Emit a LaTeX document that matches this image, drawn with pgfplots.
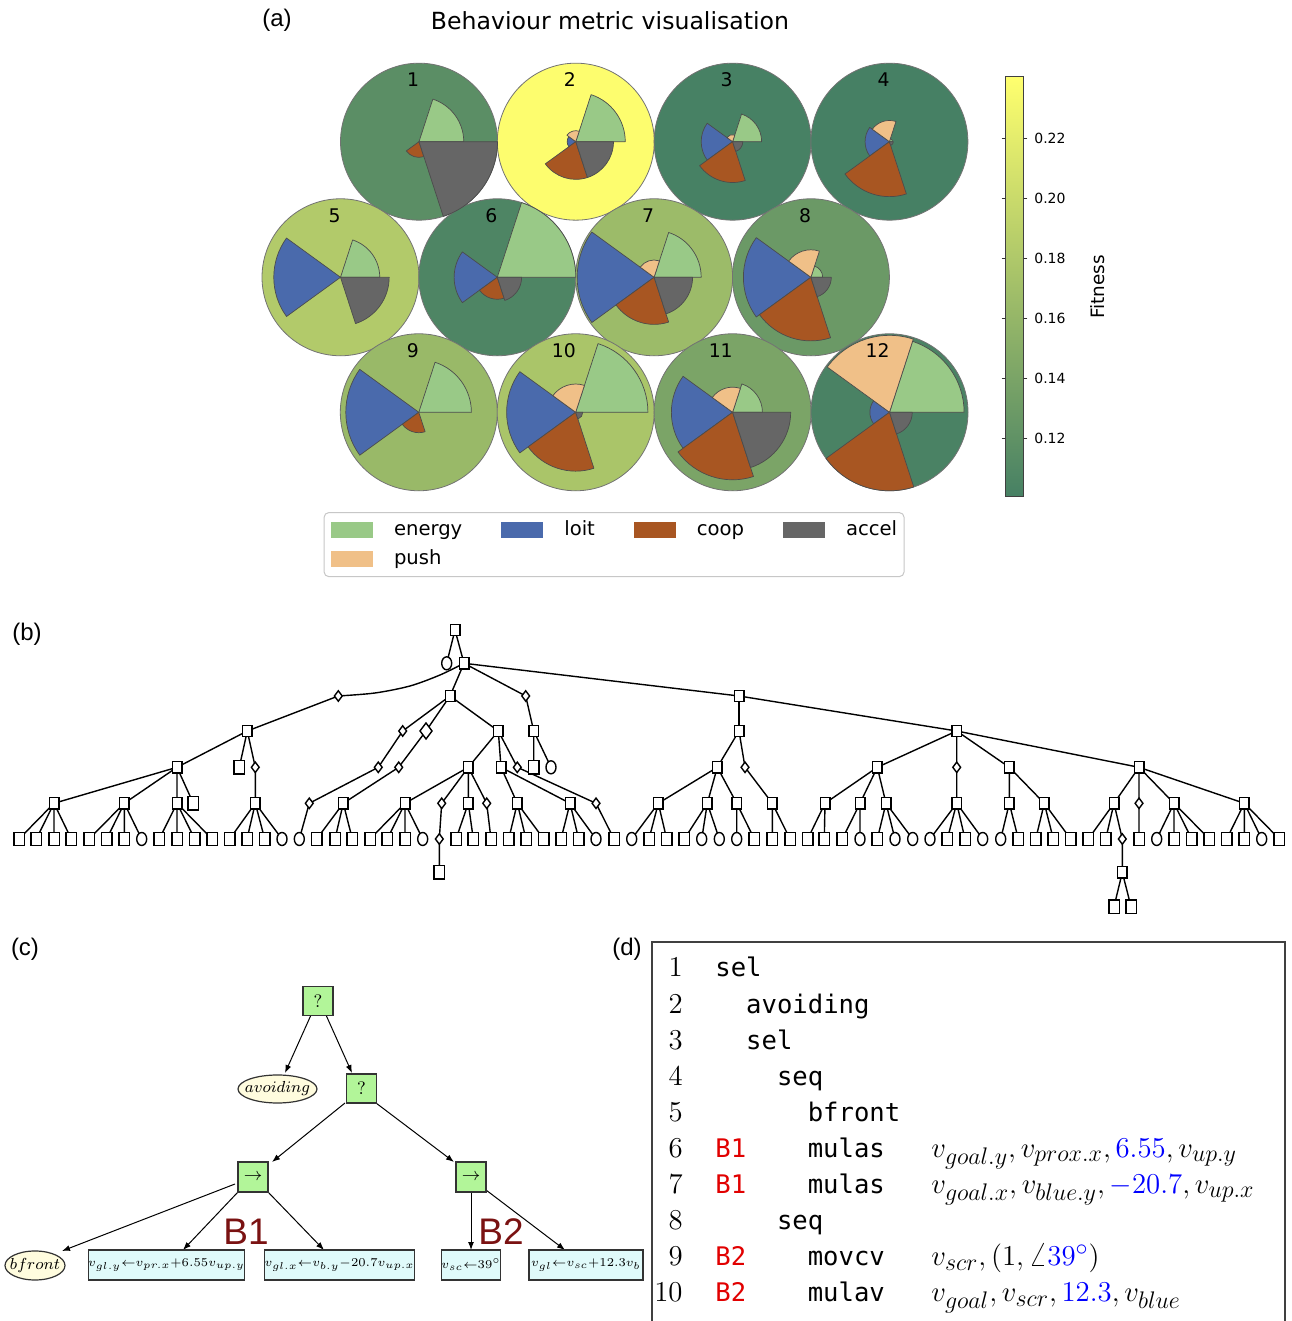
\documentclass[border=0pt]{standalone}
\usepackage[no-math]{fontspec}
\setmainfont{DejaVu Sans}
\setmonofont{DejaVu Sans Mono}
\newfontfamily\arialf{Liberation Sans}
\usepackage{pgfplots}
\pgfplotsset{compat=1.18}
\usetikzlibrary{calc,arrows.meta,shapes.geometric}
\DeclareMathSizes{14.6}{14.6}{12.6}{9}
\newcommand\fs[1]{\fontsize{#1}{#1}\selectfont}
\definecolor{ceng}{RGB}{153,201,135}
\definecolor{cloit}{RGB}{74,106,172}
\definecolor{ccoop}{RGB}{168,86,34}
\definecolor{cacc}{RGB}{102,102,102}
\definecolor{cpush}{RGB}{240,192,136}
\definecolor{bgreen}{RGB}{178,245,153}
\definecolor{byellow}{RGB}{255,252,222}
\definecolor{bcyan}{RGB}{224,250,250}
\definecolor{bred}{RGB}{122,18,18}
\definecolor{cred}{RGB}{225,0,0}
% wedge: cx, cy, start angle, colour, fraction of radius
\newcommand\wdg[5]{\ifdim#5pt>0pt\filldraw[fill=#4,draw=black!70,line width=0.35pt,line join=round] (axis cs:#1,#2) -- ++(#3:{#5*39.25pt}) arc[start angle=#3,delta angle=72,radius={#5*39.25pt}] -- cycle;\fi}
% pie: cx, cy, energy, push, loit, coop, accel
\newcommand\pie[7]{\wdg{#1}{#2}{0}{ceng}{#3}\wdg{#1}{#2}{144}{cloit}{#5}\wdg{#1}{#2}{216}{ccoop}{#6}\wdg{#1}{#2}{288}{cacc}{#7}\wdg{#1}{#2}{72}{cpush}{#4}}
\pgfplotsset{
  edge/.style={black, line width=0.7pt, line join=round, mark=none, forget plot},
  frame/.style={at={(0,0)}, anchor=south west, width=645.5pt, height=660.5pt, scale only axis,
    xmin=0, xmax=1291, ymin=-1321, ymax=0, hide axis, clip=false},
}
\tikzset{
  gbox/.style={draw=black!80, fill=bgreen, line width=0.6pt, minimum width=15pt, minimum height=14.5pt, inner sep=0pt, font=\fs{9}},
  cbox/.style={draw=black!80, fill=bcyan, line width=0.6pt, minimum height=15pt, inner sep=0pt, font=\fs{6.2}},
  arr/.style={-{Latex[length=4pt,width=3pt]}, line width=0.5pt, black},
}
\begin{document}
\begin{tikzpicture}
% ---------- background axis: coloured circles and colour bar ----------
\begin{axis}[frame,
  colormap={fit}{rgb255=(70,128,100) rgb255=(255,255,110)},
  point meta min=0.1003, point meta max=0.2407,
  colorbar, colorbar shift/.style={},
  colorbar style={
    at={($(parent axis.north west)+(502.85pt,-38.35pt)$)}, anchor=north west,
    width=8.8pt, height=210.15pt, scale only axis,
    ytick={0.12,0.14,0.16,0.18,0.2,0.22},
    yticklabel pos=right,
    yticklabel style={font=\fs{7}, /pgf/number format/.cd, fixed, fixed zerofill, precision=2, assume math mode=true},
    tick align=outside, major tick length=2pt,
    tick style={black!80, line width=0.4pt},
    axis line style={black!75, line width=0.5pt},
    ylabel={Fitness},
    ylabel style={font=\fs{9.2}, at={(axis description cs:5.2,0.5)}, anchor=center},
  },
]
\addplot[scatter, only marks, mark=*, mark size=39.25pt, point meta=explicit,
  scatter/use mapped color={draw=black!55, fill=mapped color}, forget plot] coordinates {
  (419,-141.7) [0.116]  (575.8,-141.7) [0.238] (732.6,-141.7) [0.101] (889.4,-141.7) [0.1005]
  (340.5,-277.3) [0.182] (497.3,-277.3) [0.106] (654.1,-277.3) [0.165] (810.9,-277.3) [0.128]
  (418.8,-412.3) [0.163] (575.7,-412.3) [0.176] (732.6,-412.3) [0.140] (889.5,-412.3) [0.103]
};
\end{axis}
% ---------- foreground axis ----------
\begin{axis}[frame,
  legend style={at={(0.2506,0.6124)}, anchor=north west, draw=black!22, line width=0.5pt,
    rounded corners=2.5pt, fill=white, font=\fs{9.8}, inner xsep=3.5pt, inner ysep=4pt, row sep=4.9pt,
    /tikz/every odd column/.append style={column sep=10.5pt},
    /tikz/every even column/.append style={column sep=19.5pt},
    nodes={inner sep=0pt, text height=7.4pt, text depth=2.2pt}},
  legend cell align=left,
  legend columns=4,
  legend image code/.code={\fill[#1, draw=none, sharp corners] (0pt,-4pt) rectangle (21pt,4pt);},
]
% ---------------- panel (a) ----------------
% cx, cy, energy, push, loit, coop, accel
\pie{419}{-141.7}{0.57}{0}{0}{0.20}{1.0}
\pie{575.8}{-141.7}{0.63}{0.14}{0.11}{0.48}{0.48}
\pie{732.6}{-141.7}{0.37}{0.09}{0.40}{0.52}{0.13}
\pie{889.4}{-141.7}{0.04}{0.27}{0.31}{0.70}{0.05}
\pie{340.5}{-277.3}{0.50}{0}{0.85}{0}{0.62}
\pie{497.3}{-277.3}{1.0}{0}{0.55}{0.28}{0.31}
\pie{654.1}{-277.3}{0.60}{0.22}{0.98}{0.60}{0.49}
\pie{810.9}{-277.3}{0.15}{0.35}{0.86}{0.81}{0.26}
\pie{418.8}{-412.3}{0.67}{0}{0.93}{0.26}{0}
\pie{575.7}{-412.3}{0.92}{0.36}{0.88}{0.75}{0.09}
\pie{732.6}{-412.3}{0.38}{0.32}{0.78}{0.86}{0.74}
\pie{889.5}{-412.3}{0.95}{0.98}{0.25}{1.0}{0.29}
\node[anchor=east, inner sep=0pt, font=\fs{9.4}] at (axis cs:419.5,-79.7) {1};
\node[anchor=east, inner sep=0pt, font=\fs{9.4}] at (axis cs:576.3,-79.7) {2};
\node[anchor=east, inner sep=0pt, font=\fs{9.4}] at (axis cs:733.1,-79.7) {3};
\node[anchor=east, inner sep=0pt, font=\fs{9.4}] at (axis cs:889.9,-79.7) {4};
\node[anchor=east, inner sep=0pt, font=\fs{9.4}] at (axis cs:341,-215.3) {5};
\node[anchor=east, inner sep=0pt, font=\fs{9.4}] at (axis cs:497.8,-215.3) {6};
\node[anchor=east, inner sep=0pt, font=\fs{9.4}] at (axis cs:654.6,-215.3) {7};
\node[anchor=east, inner sep=0pt, font=\fs{9.4}] at (axis cs:811.4,-215.3) {8};
\node[anchor=east, inner sep=0pt, font=\fs{9.4}] at (axis cs:419.3,-350.3) {9};
\node[anchor=east, inner sep=0pt, font=\fs{9.4}] at (axis cs:576.2,-350.3) {10};
\node[anchor=east, inner sep=0pt, font=\fs{9.4}] at (axis cs:733.1,-350.3) {11};
\node[anchor=east, inner sep=0pt, font=\fs{9.4}] at (axis cs:890,-350.3) {12};
\node[font=\fs{11.8}] at (axis cs:610,-21) {Behaviour metric visualisation};
\addlegendimage{fill=ceng}\addlegendentry{energy}
\addlegendimage{fill=cloit}\addlegendentry{loit}
\addlegendimage{fill=ccoop}\addlegendentry{coop}
\addlegendimage{fill=cacc}\addlegendentry{accel}
\addlegendimage{fill=cpush}\addlegendentry{push}
% panel labels
\node[font=\arialf\fs{12}] at (axis cs:277,-20) {(a)};
\node[font=\arialf\fs{12}] at (axis cs:27,-634) {(b)};
\node[font=\arialf\fs{12}] at (axis cs:25,-949) {(c)};
\node[font=\arialf\fs{12}] at (axis cs:627,-949) {(d)};
% ---------------- panel (b) ----------------
\addplot[edge] coordinates {(446.7,-663.3) (455,-630) (464,-663.3)};
\addplot[edge] coordinates {(450,-696) (464,-663.3) (525.7,-696) (464,-663.3) (739,-696) (956.7,-731) (1139,-767.3)};
\addplot[edge, smooth] coordinates {(464,-663.3) (440,-675) (410,-686) (375,-693) (338.3,-696)};
\addplot[edge] coordinates {(338.3,-696) (247.3,-731)};
\addplot[edge] coordinates {(177,-767.3) (247.3,-731) (239.3,-767.3) (247.3,-731) (255.3,-767.3) (255.3,-803.3)};
\addplot[edge] coordinates {(54,-803.3) (177,-767.3) (124.3,-803.3) (177,-767.3) (177,-803.3) (177,-767.3) (193.3,-803.3)};
\addplot[edge] coordinates {(19,-839) (54,-803.3) (36.3,-839) (54,-803.3) (54,-839) (54,-803.3) (71.3,-839)};
\addplot[edge] coordinates {(89,-839) (124.3,-803.3) (106.7,-839) (124.3,-803.3) (124.3,-839) (124.3,-803.3) (141.7,-839)};
\addplot[edge] coordinates {(159.3,-839) (177,-803.3) (177,-839) (177,-803.3) (194.7,-839) (177,-803.3) (212,-839)};
\addplot[edge] coordinates {(229.7,-839) (255.3,-803.3) (247,-839) (255.3,-803.3) (264.7,-839) (255.3,-803.3) (282,-839)};
\addplot[edge] coordinates {(402.7,-731) (450,-696) (426,-731) (450,-696) (498.3,-731)};
\addplot[edge] coordinates {(402.7,-731) (378.3,-767.3) (309.3,-803.3) (299.3,-839)};
\addplot[edge] coordinates {(426,-731) (398.7,-767.3) (343.3,-803.3)};
\addplot[edge] coordinates {(316.7,-839) (343.3,-803.3) (335,-839) (343.3,-803.3) (352.3,-839)};
\addplot[edge] coordinates {(468.3,-767.3) (498.3,-731) (501,-767.3) (498.3,-731) (517.3,-767.3) (596,-803.3) (614,-839)};
\addplot[edge] coordinates {(405,-803.3) (468.3,-767.3) (441.7,-803.3) (468.3,-767.3) (468.3,-803.3) (468.3,-767.3) (486.7,-803.3) (491,-839)};
\addplot[edge] coordinates {(370,-839) (405,-803.3) (387.3,-839) (405,-803.3) (405,-839) (405,-803.3) (422.7,-839)};
\addplot[edge] coordinates {(441.7,-803.3) (439.3,-839) (439.3,-872.3)};
\addplot[edge] coordinates {(456,-839) (468.3,-803.3) (473.3,-839)};
\addplot[edge] coordinates {(517.3,-803.3) (501,-767.3) (570,-803.3)};
\addplot[edge] coordinates {(508.7,-839) (517.3,-803.3) (526,-839) (517.3,-803.3) (543.7,-839)};
\addplot[edge] coordinates {(561,-839) (570,-803.3) (578.7,-839) (570,-803.3) (596,-839)};
\addplot[edge] coordinates {(525.7,-696) (533.7,-731) (533.7,-767.3) (533.7,-731) (551,-767.3)};
\addplot[edge] coordinates {(739,-696) (739,-731)};
\addplot[edge] coordinates {(717.3,-767.3) (739,-731) (745,-767.3) (772.3,-803.3)};
\addplot[edge] coordinates {(658.3,-803.3) (717.3,-767.3) (707.3,-803.3) (717.3,-767.3) (736.7,-803.3)};
\addplot[edge] coordinates {(631.7,-839) (658.3,-803.3) (649,-839) (658.3,-803.3) (666.7,-839)};
\addplot[edge] coordinates {(684.3,-839) (707.3,-803.3) (701.7,-839) (707.3,-803.3) (719.3,-839)};
\addplot[edge] coordinates {(736.7,-839) (736.7,-803.3) (754.3,-839)};
\addplot[edge] coordinates {(772.3,-839) (772.3,-803.3) (790,-839)};
\addplot[edge] coordinates {(877.3,-767.3) (956.7,-731) (956.7,-803.3) (956.7,-731) (1009.3,-767.3)};
\addplot[edge] coordinates {(825,-803.3) (877.3,-767.3) (860,-803.3) (877.3,-767.3) (886,-803.3)};
\addplot[edge] coordinates {(807.7,-839) (825,-803.3) (824.3,-839)};
\addplot[edge] coordinates {(842.3,-839) (860,-803.3) (860,-839)};
\addplot[edge] coordinates {(877.3,-839) (886,-803.3) (895,-839) (886,-803.3) (912.7,-839)};
\addplot[edge] coordinates {(930,-839) (956.7,-803.3) (947.3,-839) (956.7,-803.3) (965,-839) (956.7,-803.3) (982.7,-839)};
\addplot[edge] coordinates {(1009.3,-803.3) (1009.3,-767.3) (1044.3,-803.3)};
\addplot[edge] coordinates {(1000.7,-839) (1009.3,-803.3) (1018.3,-839)};
\addplot[edge] coordinates {(1035.7,-839) (1044.3,-803.3) (1053.3,-839) (1044.3,-803.3) (1070.7,-839)};
\addplot[edge] coordinates {(1114,-803.3) (1139,-767.3) (1139,-839) (1139,-767.3) (1174,-803.3) (1139,-767.3) (1244.3,-803.3)};
\addplot[edge] coordinates {(1088.3,-839) (1114,-803.3) (1105.7,-839) (1114,-803.3) (1122.3,-839) (1122.3,-872.3) (1114,-906.7) (1122.3,-872.3) (1131,-906.7)};
\addplot[edge] coordinates {(1156.7,-839) (1174,-803.3) (1174,-839) (1174,-803.3) (1191.7,-839) (1174,-803.3) (1209.3,-839)};
\addplot[edge] coordinates {(1226.7,-839) (1244.3,-803.3) (1244.3,-839) (1244.3,-803.3) (1261.7,-839) (1244.3,-803.3) (1279.3,-839)};
% internal squares
\addplot[only marks, mark=square*, mark size=2.4pt, mark options={fill=white, draw=black, line width=0.7pt, yscale=1.15}, forget plot] coordinates {
 (455,-630) (464,-663.3) (450,-696) (739,-696)
 (247.3,-731) (498.3,-731) (533.7,-731) (739,-731) (956.7,-731)
 (177,-767.3) (468.3,-767.3) (501,-767.3) (717.3,-767.3) (877.3,-767.3) (1009.3,-767.3) (1139,-767.3)
 (54,-803.3) (124.3,-803.3) (177,-803.3) (255.3,-803.3) (343.3,-803.3) (405,-803.3) (468.3,-803.3) (517.3,-803.3)
 (570,-803.3) (658.3,-803.3) (707.3,-803.3) (736.7,-803.3) (772.3,-803.3) (825,-803.3) (860,-803.3) (886,-803.3)
 (956.7,-803.3) (1009.3,-803.3) (1044.3,-803.3) (1114,-803.3) (1174,-803.3) (1244.3,-803.3) (1122.3,-872.3)
};
% leaf squares
\addplot[only marks, mark=square*, mark size=2.6pt, mark options={fill=white, draw=black, line width=0.7pt, yscale=1.3}, forget plot] coordinates {
 (239.3,-767.3) (533.7,-767.3) (193.3,-803.3) (439.3,-872.3) (1114,-906.7) (1131,-906.7)
 (19,-839) (36.3,-839) (54,-839) (71.3,-839) (89,-839) (106.7,-839) (124.3,-839) (159.3,-839) (177,-839)
 (194.7,-839) (212,-839) (229.7,-839) (247,-839) (264.7,-839) (316.7,-839) (335,-839) (352.3,-839) (370,-839)
 (387.3,-839) (405,-839) (456,-839) (473.3,-839) (491,-839) (508.7,-839) (526,-839) (543.7,-839) (561,-839)
 (578.7,-839) (614,-839) (649,-839) (666.7,-839) (684.3,-839) (754.3,-839) (772.3,-839) (790,-839) (807.7,-839)
 (824.3,-839) (842.3,-839) (877.3,-839) (947.3,-839) (965,-839) (1018.3,-839) (1035.7,-839) (1053.3,-839)
 (1070.7,-839) (1088.3,-839) (1105.7,-839) (1139,-839) (1174,-839) (1191.7,-839) (1209.3,-839) (1226.7,-839)
 (1244.3,-839) (1279.3,-839)
};
% circles
\addplot[only marks, mark=*, mark size=2.5pt, mark options={fill=white, draw=black, line width=0.7pt, yscale=1.3}, forget plot] coordinates {
 (446.7,-663.3) (551,-767.3)
 (141.7,-839) (282,-839) (299.3,-839) (422.7,-839) (596,-839) (631.7,-839) (701.7,-839) (719.3,-839)
 (736.7,-839) (860,-839) (895,-839) (912.7,-839) (930,-839) (982.7,-839) (1000.7,-839) (1156.7,-839) (1261.7,-839)
};
% diamonds
\addplot[only marks, mark=diamond*, mark size=2.6pt, mark options={fill=white, draw=black, line width=0.7pt}, forget plot] coordinates {
 (338.3,-696) (525.7,-696) (402.7,-731) (255.3,-767.3) (378.3,-767.3) (398.7,-767.3) (517.3,-767.3)
 (745,-767.3) (956.7,-767.3) (309.3,-803.3) (441.7,-803.3) (486.7,-803.3) (596,-803.3) (1139,-803.3)
 (439.3,-839) (1122.3,-839)
};
\addplot[only marks, mark=diamond*, mark size=4pt, mark options={fill=white, draw=black, line width=0.7pt}, forget plot] coordinates {(426,-731)};
% ---------------- panel (c) ----------------
\draw[arr] (axis cs:311,-1015) -- (axis cs:285,-1073);
\draw[arr] (axis cs:326,-1015) -- (axis cs:352,-1073);
\draw[arr] (axis cs:345,-1103) -- (axis cs:272,-1162);
\draw[arr] (axis cs:376,-1103) -- (axis cs:454,-1162);
\draw[arr] (axis cs:235,-1184) -- (axis cs:62,-1251);
\draw[arr] (axis cs:238,-1192) -- (axis cs:183,-1250);
\draw[arr] (axis cs:268,-1192) -- (axis cs:324,-1250);
\draw[arr] (axis cs:471,-1192) -- (axis cs:471,-1250);
\draw[arr] (axis cs:486,-1190) -- (axis cs:565,-1250);
\node[gbox] at (axis cs:318,-1001) {$?$};
\node[gbox] at (axis cs:361.5,-1088.5) {$?$};
\node[gbox, minimum height=15pt] at (axis cs:253,-1177) {$\rightarrow$};
\node[gbox, minimum height=15pt] at (axis cs:471,-1177) {$\rightarrow$};
\filldraw[fill=byellow, draw=black!80, line width=0.6pt] (axis cs:277.5,-1089) ellipse [x radius=19.75pt, y radius=7pt];
\node[font=\fs{8.3}, inner sep=0pt] at (axis cs:277.5,-1089) {$avoiding$};
\filldraw[fill=byellow, draw=black!80, line width=0.6pt] (axis cs:35,-1265.5) ellipse [x radius=15pt, y radius=7.25pt];
\node[font=\fs{8.3}, inner sep=0pt] at (axis cs:35,-1265.5) {$bfront$};
\node[cbox, minimum width=72.5pt] at (axis cs:166.5,-1265) {$v_{gl.y}{\leftarrow}v_{pr.x}{+}6.55v_{up.y}$};
\node[cbox, minimum width=72.5pt] at (axis cs:339.5,-1265) {$v_{gl.x}{\leftarrow}v_{b.y}{-}20.7v_{up.x}$};
\node[cbox, minimum width=29pt] at (axis cs:471,-1265) {$v_{sc}{\leftarrow}39^{\circ}$};
\node[cbox, minimum width=57pt] at (axis cs:586,-1265) {$v_{gl}{\leftarrow}v_{sc}{+}12.3v_{b}$};
\node[font=\arialf\fs{18.5}, text=bred] at (axis cs:246,-1232) {B1};
\node[font=\arialf\fs{18.5}, text=bred] at (axis cs:501,-1232) {B2};
% ---------------- panel (d) ----------------
\draw[black!75, line width=0.8pt] (axis cs:652,-1321) -- (axis cs:652,-942) -- (axis cs:1285,-942) -- (axis cs:1285,-1321);
\node[anchor=base east, inner sep=0pt, font=\fs{13.5}] at (axis cs:683,-977) {$1$};
\node[anchor=base east, inner sep=0pt, font=\fs{13.5}] at (axis cs:683,-1013.1) {$2$};
\node[anchor=base east, inner sep=0pt, font=\fs{13.5}] at (axis cs:683,-1049.2) {$3$};
\node[anchor=base east, inner sep=0pt, font=\fs{13.5}] at (axis cs:683,-1085.3) {$4$};
\node[anchor=base east, inner sep=0pt, font=\fs{13.5}] at (axis cs:683,-1121.4) {$5$};
\node[anchor=base east, inner sep=0pt, font=\fs{13.5}] at (axis cs:683,-1157.5) {$6$};
\node[anchor=base east, inner sep=0pt, font=\fs{13.5}] at (axis cs:683,-1193.6) {$7$};
\node[anchor=base east, inner sep=0pt, font=\fs{13.5}] at (axis cs:683,-1229.7) {$8$};
\node[anchor=base east, inner sep=0pt, font=\fs{13.5}] at (axis cs:683,-1265.8) {$9$};
\node[anchor=base east, inner sep=0pt, font=\fs{13.5}] at (axis cs:683,-1301.9) {$10$};
\node[anchor=base west, inner sep=0pt, font=\ttfamily\fs{12.8}] at (axis cs:715,-977) {sel};
\node[anchor=base west, inner sep=0pt, font=\ttfamily\fs{12.8}] at (axis cs:745.8,-1013.1) {avoiding};
\node[anchor=base west, inner sep=0pt, font=\ttfamily\fs{12.8}] at (axis cs:745.8,-1049.2) {sel};
\node[anchor=base west, inner sep=0pt, font=\ttfamily\fs{12.8}] at (axis cs:776.6,-1085.3) {seq};
\node[anchor=base west, inner sep=0pt, font=\ttfamily\fs{12.8}] at (axis cs:807.4,-1121.4) {bfront};
\node[anchor=base west, inner sep=0pt, font=\ttfamily\fs{12.8}] at (axis cs:807.4,-1157.5) {mulas};
\node[anchor=base west, inner sep=0pt, font=\ttfamily\fs{12.8}] at (axis cs:807.4,-1193.6) {mulas};
\node[anchor=base west, inner sep=0pt, font=\ttfamily\fs{12.8}] at (axis cs:776.6,-1229.7) {seq};
\node[anchor=base west, inner sep=0pt, font=\ttfamily\fs{12.8}] at (axis cs:807.4,-1265.8) {movcv};
\node[anchor=base west, inner sep=0pt, font=\ttfamily\fs{12.8}] at (axis cs:807.4,-1301.9) {mulav};
\node[anchor=base west, inner sep=0pt, font=\ttfamily\fs{12.8}, text=cred] at (axis cs:715,-1157.5) {B1};
\node[anchor=base west, inner sep=0pt, font=\ttfamily\fs{12.8}, text=cred] at (axis cs:715,-1193.6) {B1};
\node[anchor=base west, inner sep=0pt, font=\ttfamily\fs{12.8}, text=cred] at (axis cs:715,-1265.8) {B2};
\node[anchor=base west, inner sep=0pt, font=\ttfamily\fs{12.8}, text=cred] at (axis cs:715,-1301.9) {B2};
\node[anchor=base west, inner sep=0pt, font=\fs{14.6}] at (axis cs:931,-1157.5) {$v_{goal.y}, v_{prox.x}, {\color{blue}6.55}, v_{up.y}$};
\node[anchor=base west, inner sep=0pt, font=\fs{14.6}] at (axis cs:931,-1193.6) {$v_{goal.x}, v_{blue.y}, {\color{blue}-20.7}, v_{up.x}$};
\node[anchor=base west, inner sep=0pt, font=\fs{14.6}] at (axis cs:931,-1265.8) {$v_{scr}, (1, \angle{\color{blue}39^{\circ}})$};
\node[anchor=base west, inner sep=0pt, font=\fs{14.6}] at (axis cs:931,-1301.9) {$v_{goal}, v_{scr}, {\color{blue}12.3}, v_{blue}$};
\end{axis}
\pgfresetboundingbox
\useasboundingbox (0,0) rectangle (645.5pt,660.5pt);
\end{tikzpicture}
\end{document}
